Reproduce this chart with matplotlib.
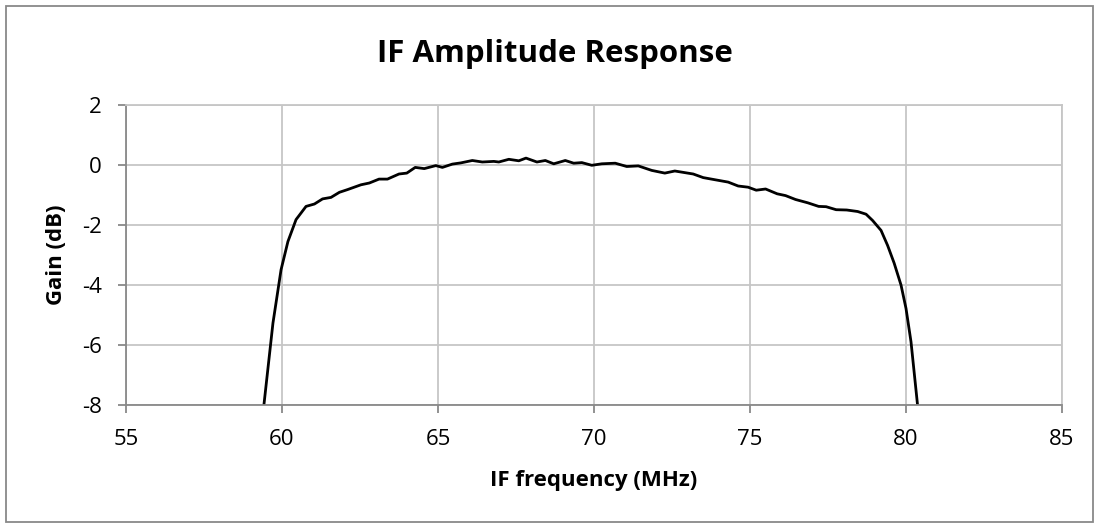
import matplotlib.pyplot as plt
from matplotlib.patches import Rectangle

# IF response (MHz, dB)
freq_mhz = [59.42, 59.71, 59.97, 60.19, 60.45, 60.77, 61.04, 61.30, 61.57, 61.84,
            62.10, 62.53, 62.80, 63.11, 63.38, 63.75, 64.00, 64.27, 64.56, 64.93,
            65.14, 65.46, 65.73, 66.10, 66.42, 66.79, 66.95, 67.27, 67.59, 67.82,
            68.17, 68.44, 68.71, 69.08, 69.35, 69.61, 69.93, 70.25, 70.68, 71.05,
            71.42, 71.85, 72.27, 72.59, 73.18, 73.50, 73.87, 74.30, 74.62, 74.94,
            75.20, 75.50, 75.87, 76.14, 76.46, 76.85, 77.20, 77.44, 77.76, 78.10,
            78.45, 78.72, 78.93, 79.20, 79.41, 79.62, 79.84, 80.00, 80.16, 80.37]
gain_db = [-8.0, -5.27, -3.49, -2.55, -1.82, -1.38, -1.30, -1.13, -1.08, -0.91,
           -0.82, -0.66, -0.60, -0.47, -0.47, -0.30, -0.27, -0.08, -0.12, -0.02,
           -0.08, 0.03, 0.07, 0.15, 0.10, 0.12, 0.10, 0.19, 0.14, 0.23,
           0.10, 0.15, 0.04, 0.15, 0.06, 0.08, -0.01, 0.04, 0.06, -0.05,
           -0.03, -0.18, -0.27, -0.20, -0.30, -0.42, -0.49, -0.57, -0.70, -0.74,
           -0.84, -0.80, -0.96, -1.02, -1.15, -1.26, -1.38, -1.39, -1.49, -1.50,
           -1.55, -1.64, -1.85, -2.18, -2.68, -3.27, -4.00, -4.78, -5.89, -8.0]

x_ticks = [55, 60, 65, 70, 75, 80, 85]
y_ticks = [-8, -6, -4, -2, 0, 2]

plt.rcParams['font.family'] = ['Open Sans', 'DejaVu Sans']
plt.rcParams['axes.unicode_minus'] = False

fig = plt.figure(figsize=(10.98, 5.27), dpi=100)
ax = fig.add_axes([126 / 1098, 1 - 405 / 527, 936 / 1098, 300 / 527])

ax.plot(freq_mhz, gain_db, color='black', linewidth=2.0)

ax.set_xlim(55, 85)
ax.set_ylim(-8, 2)
ax.set_xticks(x_ticks)
ax.set_yticks(y_ticks)
ax.grid(True, color='#c6c6c6', linewidth=1.3)
ax.set_axisbelow(True)

for side in ['top', 'right']:
    ax.spines[side].set_color('#c6c6c6')
    ax.spines[side].set_linewidth(1.3)
for side in ['left', 'bottom']:
    ax.spines[side].set_color('#898989')
    ax.spines[side].set_linewidth(1.3)
ax.tick_params(axis='both', colors='#898989', length=5.5, width=1.3,
               labelsize=16, labelcolor='black')
ax.tick_params(axis='x', pad=12)
ax.tick_params(axis='y', pad=12)

fig.text(555 / 1098, 1 - 62 / 527, 'IF Amplitude Response', fontsize=22.5,
         fontweight='bold', ha='center', va='baseline')
ax.set_xlabel('IF frequency (MHz)', fontsize=16, fontweight='bold')
ax.set_ylabel('Gain (dB)', fontsize=16, fontweight='bold')
ax.xaxis.set_label_coords(0.5, -0.253)
ax.yaxis.set_label_coords((57 - 126) / 936, 0.5)
ax.xaxis.label.set_va('center')
ax.yaxis.label.set_va('center')

# chart-area border
fig.patches.append(Rectangle((6 / 1098, 5 / 527), 1087 / 1098, 516 / 527,
                             transform=fig.transFigure, fill=False,
                             edgecolor='#898989', linewidth=1.3))

fig.savefig('out.png', dpi=100)
